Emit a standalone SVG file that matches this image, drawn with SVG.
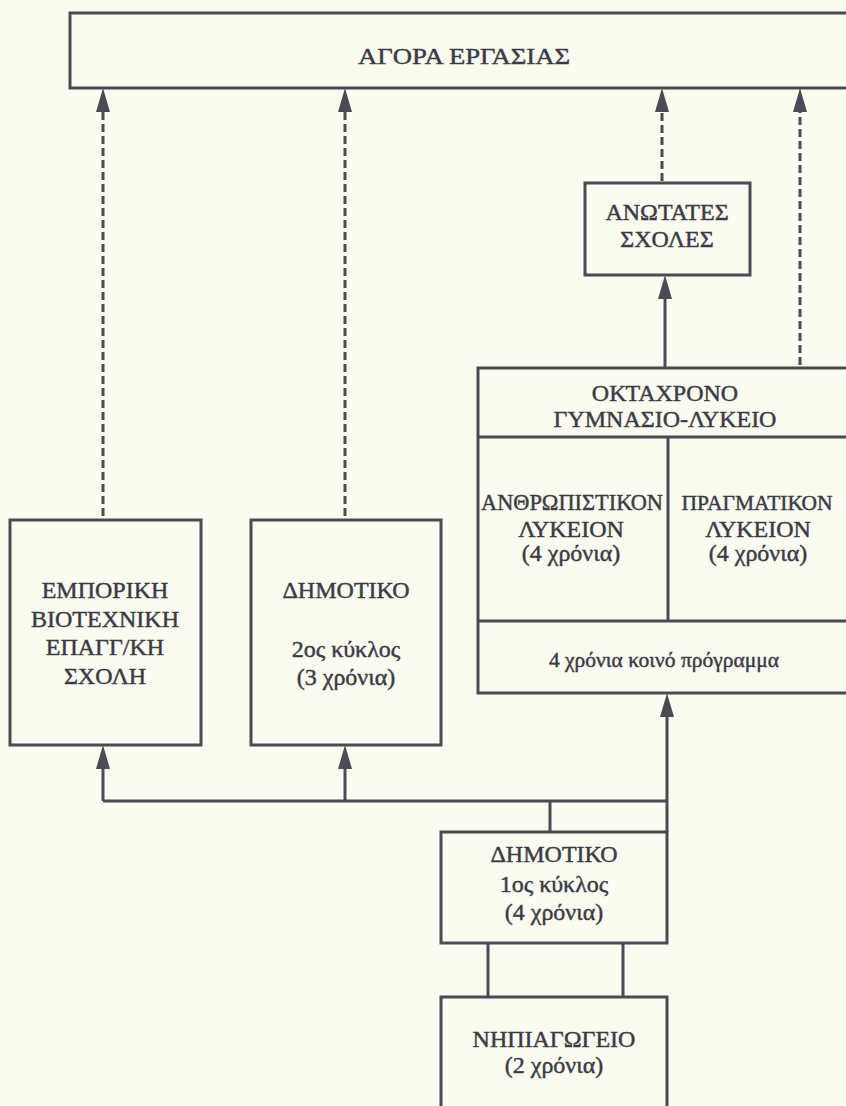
<svg xmlns="http://www.w3.org/2000/svg" width="846" height="1106" viewBox="0 0 846 1106">
  <style>
    .box { fill: none; stroke: #4a4b57; stroke-width: 3; }
    .line { fill: none; stroke: #4a4b57; stroke-width: 3; }
    .dash { stroke-dasharray: 8 4; }
    text { font-family: "Liberation Serif", "Times New Roman", serif; font-size: 24px; fill: #3a3b46; stroke: #3a3b46; stroke-width: 0.45; text-anchor: middle; }
    .small { font-size: 21.5px; }
  </style>
  <defs>
    <marker id="arrow" markerUnits="userSpaceOnUse" markerWidth="24" markerHeight="14" refX="8" refY="7" orient="auto" overflow="visible">
      <path d="M0,0 L24,7 L0,14 Z" fill="#4a4b57"/>
    </marker>
  </defs>
  <rect width="846" height="1106" fill="#fbfbf0"/>

  <g id="connectors">
    <!-- dashed exits to the labour market -->
    <line class="line dash" x1="103" y1="516" x2="103" y2="104" marker-end="url(#arrow)"/>
    <line class="line dash" x1="345" y1="516" x2="345" y2="104" marker-end="url(#arrow)"/>
    <line class="line dash" x1="662" y1="181" x2="662" y2="104" marker-end="url(#arrow)"/>
    <line class="line dash" x1="800" y1="365" x2="800" y2="104" marker-end="url(#arrow)"/>
    <!-- gymnasium-lyceum to higher schools -->
    <line class="line" x1="665" y1="367" x2="665" y2="291" marker-end="url(#arrow)"/>
    <!-- primary school branches -->
    <line class="line" x1="667" y1="832" x2="667" y2="709" marker-end="url(#arrow)"/>
    <line class="line" x1="103" y1="801" x2="667" y2="801"/>
    <line class="line" x1="103" y1="801" x2="103" y2="761" marker-end="url(#arrow)"/>
    <line class="line" x1="345" y1="801" x2="345" y2="761" marker-end="url(#arrow)"/>
    <line class="line" x1="550" y1="801" x2="550" y2="832"/>
    <!-- kindergarten to primary -->
    <line class="line" x1="488" y1="943" x2="488" y2="997"/>
    <line class="line" x1="623" y1="943" x2="623" y2="997"/>
  </g>

  <g id="agora">
    <rect class="box" x="70" y="13" width="790" height="75"/>
    <text x="464" y="64" textLength="212" lengthAdjust="spacingAndGlyphs">ΑΓΟΡΑ ΕΡΓΑΣΙΑΣ</text>
  </g>

  <g id="anotates">
    <rect class="box" x="585" y="183" width="165" height="92"/>
    <text x="667" y="220">ΑΝΩΤΑΤΕΣ</text>
    <text x="667" y="247">ΣΧΟΛΕΣ</text>
  </g>

  <g id="oktachrono">
    <rect class="box" x="478" y="368" width="380" height="325"/>
    <line class="line" x1="478" y1="437" x2="858" y2="437"/>
    <line class="line" x1="478" y1="621" x2="858" y2="621"/>
    <line class="line" x1="668" y1="437" x2="668" y2="621"/>
    <text x="665" y="401">ΟΚΤΑΧΡΟΝΟ</text>
    <text x="665" y="427">ΓΥΜΝΑΣΙΟ-ΛΥΚΕΙΟ</text>
    <text x="572" y="510" textLength="182" lengthAdjust="spacingAndGlyphs">ΑΝΘΡΩΠΙΣΤΙΚΟΝ</text>
    <text x="571" y="537">ΛΥΚΕΙΟΝ</text>
    <text x="571" y="561">(4 χρόνια)</text>
    <text x="757" y="510" style="font-size:21.5px">ΠΡΑΓΜΑΤΙΚΟΝ</text>
    <text x="758" y="537">ΛΥΚΕΙΟΝ</text>
    <text x="758" y="561">(4 χρόνια)</text>
    <text class="small" x="664" y="667">4 χρόνια κοινό πρόγραμμα</text>
  </g>

  <g id="emporiki">
    <rect class="box" x="10" y="520" width="191" height="225"/>
    <text x="105" y="598">ΕΜΠΟΡΙΚΗ</text>
    <text x="105" y="627">ΒΙΟΤΕΧΝΙΚΗ</text>
    <text x="105" y="655">ΕΠΑΓΓ/ΚΗ</text>
    <text x="105" y="684">ΣΧΟΛΗ</text>
  </g>

  <g id="dimotiko-2">
    <rect class="box" x="251" y="520" width="190" height="225"/>
    <text x="346" y="598">ΔΗΜΟΤΙΚΟ</text>
    <text x="346" y="657">2ος κύκλος</text>
    <text x="346" y="685">(3 χρόνια)</text>
  </g>

  <g id="dimotiko-1">
    <rect class="box" x="441" y="832" width="226" height="111"/>
    <text x="554" y="862">ΔΗΜΟΤΙΚΟ</text>
    <text x="554" y="892">1ος κύκλος</text>
    <text x="554" y="920">(4 χρόνια)</text>
  </g>

  <g id="nipiagogeio">
    <rect class="box" x="441" y="997" width="226" height="130"/>
    <text x="554" y="1047">ΝΗΠΙΑΓΩΓΕΙΟ</text>
    <text x="554" y="1073">(2 χρόνια)</text>
  </g>
</svg>
